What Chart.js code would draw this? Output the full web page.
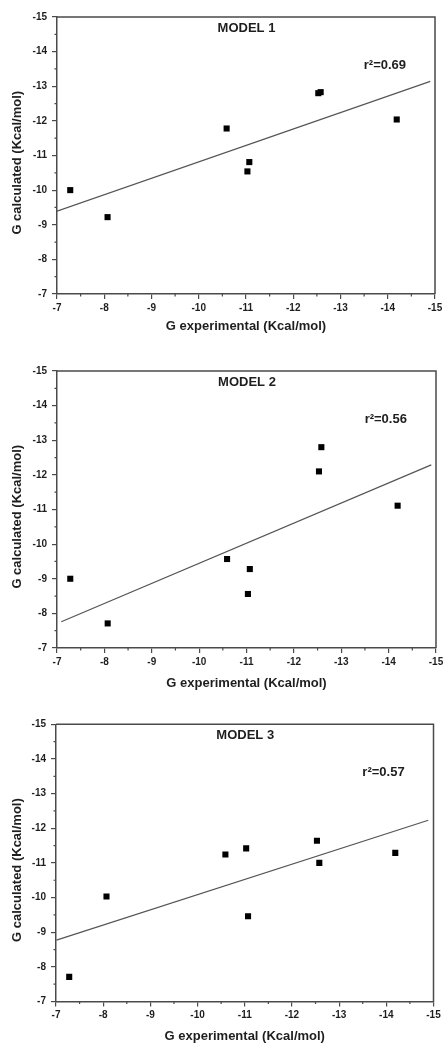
<!DOCTYPE html>
<html>
<head>
<meta charset="utf-8">
<script src="https://cdn.jsdelivr.net/npm/chart.js@4.4.1/dist/chart.umd.min.js"></script>
<style>
  html, body { margin: 0; padding: 0; background: #ffffff; overflow: hidden; }
  body { width: 444px; height: 1044px; position: relative; }
  canvas { position: absolute; left: 0; }
</style>
</head>
<body>
<canvas id="c1" width="444" height="340" style="top:0px"></canvas>
<canvas id="c2" width="444" height="352" style="top:340px"></canvas>
<canvas id="c3" width="444" height="352" style="top:692px"></canvas>
<script>
// ---- data ----
const xExperimental = [-7.28, -8.07, -10.59, -11.03, -11.07, -12.53, -12.58, -14.19];
const calcModel1 = [-10.00, -9.22, -11.78, -10.54, -10.81, -12.80, -12.83, -12.04];
const calcModel2 = [-9.00, -7.71, -9.57, -8.56, -9.28, -12.10, -12.80, -11.11];
const calcModel3 = [-7.71, -10.03, -11.24, -11.42, -9.46, -11.64, -11.00, -11.29];

const fitXModel1 = [-7.00, -14.90];
const fitYModel1 = [-9.39, -13.14];
const fitXModel2 = [-7.09, -14.90];
const fitYModel2 = [-7.76, -12.29];
const fitXModel3 = [-7.01, -14.89];
const fitYModel3 = [-8.77, -12.23];

const modelNames = ['MODEL 1', 'MODEL 2', 'MODEL 3'];
const r2Labels = ['r\u00B2=0.69', 'r\u00B2=0.56', 'r\u00B2=0.57'];

const xTickValues = [-7, -8, -9, -10, -11, -12, -13, -14, -15];
const yTickValues = [-7, -8, -9, -10, -11, -12, -13, -14, -15];
const xMinorValues = [-7.5, -8.5, -9.5, -10.5, -11.5, -12.5, -13.5, -14.5];
const yMinorValues = [-7.5, -8.5, -9.5, -10.5, -11.5, -12.5, -13.5, -14.5];

const xTitle = 'G experimental (Kcal/mol)';
const yTitle = 'G calculated (Kcal/mol)';

// ---- styling / layout ----
const FONT = '"Liberation Sans", Arial, Helvetica, sans-serif';
const TEXT = '#1e1e1e';
const AXIS = '#4a4a4a';

const panels = [
  { id: 'c1', calc: calcModel1, fx: fitXModel1, fy: fitYModel1, left: 57, right: 435, top: 17, bottom: 294, titlePad: 5.7 },
  { id: 'c2', calc: calcModel2, fx: fitXModel2, fy: fitYModel2, left: 57, right: 436, top: 31, bottom: 308, titlePad: 0.7 },
  { id: 'c3', calc: calcModel3, fx: fitXModel3, fy: fitYModel3, left: 56, right: 433.5, top: 32.3, bottom: 309.5, titlePad: 0 }
];

function toXY(xs, ys) { return xs.map((x, i) => ({ x: x, y: ys[i] })); }

const framePlugin = {
  id: 'frameAndText',
  afterDraw(chart, args, opts) {
    const { ctx, chartArea: a, scales } = chart;
    const xs = scales.x, ys = scales.y;
    ctx.save();
    // top + right frame
    ctx.strokeStyle = AXIS;
    ctx.lineWidth = 1.5;
    ctx.beginPath();
    ctx.moveTo(a.left, a.top);
    ctx.lineTo(a.right, a.top);
    ctx.lineTo(a.right, a.bottom);
    ctx.stroke();
    // minor ticks
    ctx.lineWidth = 1.2;
    ctx.beginPath();
    xMinorValues.forEach(v => {
      const px = xs.getPixelForValue(v);
      ctx.moveTo(px, a.bottom);
      ctx.lineTo(px, a.bottom + 2.5);
    });
    yMinorValues.forEach(v => {
      const py = ys.getPixelForValue(v);
      ctx.moveTo(a.left - 2.5, py);
      ctx.lineTo(a.left, py);
    });
    ctx.stroke();
    // texts
    ctx.fillStyle = TEXT;
    ctx.font = 'bold 13px ' + FONT;
    ctx.textAlign = 'center';
    ctx.textBaseline = 'middle';
    ctx.fillText(opts.name, xs.getPixelForValue(-11.01), ys.getPixelForValue(-14.68));
    ctx.fillText(opts.r2, xs.getPixelForValue(-13.94), ys.getPixelForValue(-13.61));
    ctx.restore();
  }
};

panels.forEach((p, idx) => {
  const canvas = document.getElementById(p.id);
  const W = canvas.width, H = canvas.height;
  new Chart(canvas, {
    type: 'scatter',
    data: {
      datasets: [
        {
          type: 'line',
          data: toXY(p.fx, p.fy),
          borderColor: '#555555',
          borderWidth: 1.2,
          pointRadius: 0,
          fill: false,
          order: 2
        },
        {
          data: toXY(xExperimental, p.calc),
          pointStyle: 'rect',
          pointRadius: 4.3,
          pointBackgroundColor: '#000000',
          pointBorderWidth: 0,
          borderWidth: 0,
          order: 1
        }
      ]
    },
    options: {
      responsive: false,
      animation: false,
      devicePixelRatio: 1,
      layout: { padding: { top: p.top, right: W - p.right, left: 0, bottom: 0 } },
      plugins: {
        legend: { display: false },
        tooltip: { enabled: false },
        frameAndText: { name: modelNames[idx], r2: r2Labels[idx] }
      },
      scales: {
        x: {
          type: 'linear',
          min: -15, max: -7,
          reverse: true,
          afterBuildTicks(s) { s.ticks = xTickValues.map(v => ({ value: v })); },
          afterFit(s) { s.height = H - p.bottom; s.paddingLeft = 0; s.paddingRight = 0; },
          ticks: {
            autoSkip: false, maxRotation: 0, padding: 3,
            color: TEXT, font: { family: FONT, size: 10, weight: 'bold' },
            callback: v => String(v)
          },
          grid: { drawOnChartArea: false, drawTicks: true, tickLength: 5, color: AXIS, lineWidth: 1.2 },
          border: { display: true, color: AXIS, width: 1.5 },
          title: {
            display: true, text: xTitle, color: TEXT,
            font: { family: FONT, size: 13, weight: 'bold', lineHeight: 1.2 },
            padding: { top: 0, bottom: p.titlePad }
          }
        },
        y: {
          type: 'linear',
          min: -15, max: -7,
          reverse: true,
          afterBuildTicks(s) { s.ticks = yTickValues.map(v => ({ value: v })); },
          afterFit(s) { s.width = p.left; s.paddingTop = 0; s.paddingBottom = 0; },
          ticks: {
            autoSkip: false, padding: 5,
            color: TEXT, font: { family: FONT, size: 10, weight: 'bold' },
            callback: v => String(v)
          },
          grid: { drawOnChartArea: false, drawTicks: true, tickLength: 5, color: AXIS, lineWidth: 1.2 },
          border: { display: true, color: AXIS, width: 1.5 },
          title: {
            display: true, text: yTitle + '    ', color: TEXT,
            font: { family: FONT, size: 13, weight: 'bold', lineHeight: 1.2 },
            padding: { top: 9.7, bottom: 0 }
          }
        }
      }
    },
    plugins: [framePlugin]
  });
});
</script>
</body>
</html>
